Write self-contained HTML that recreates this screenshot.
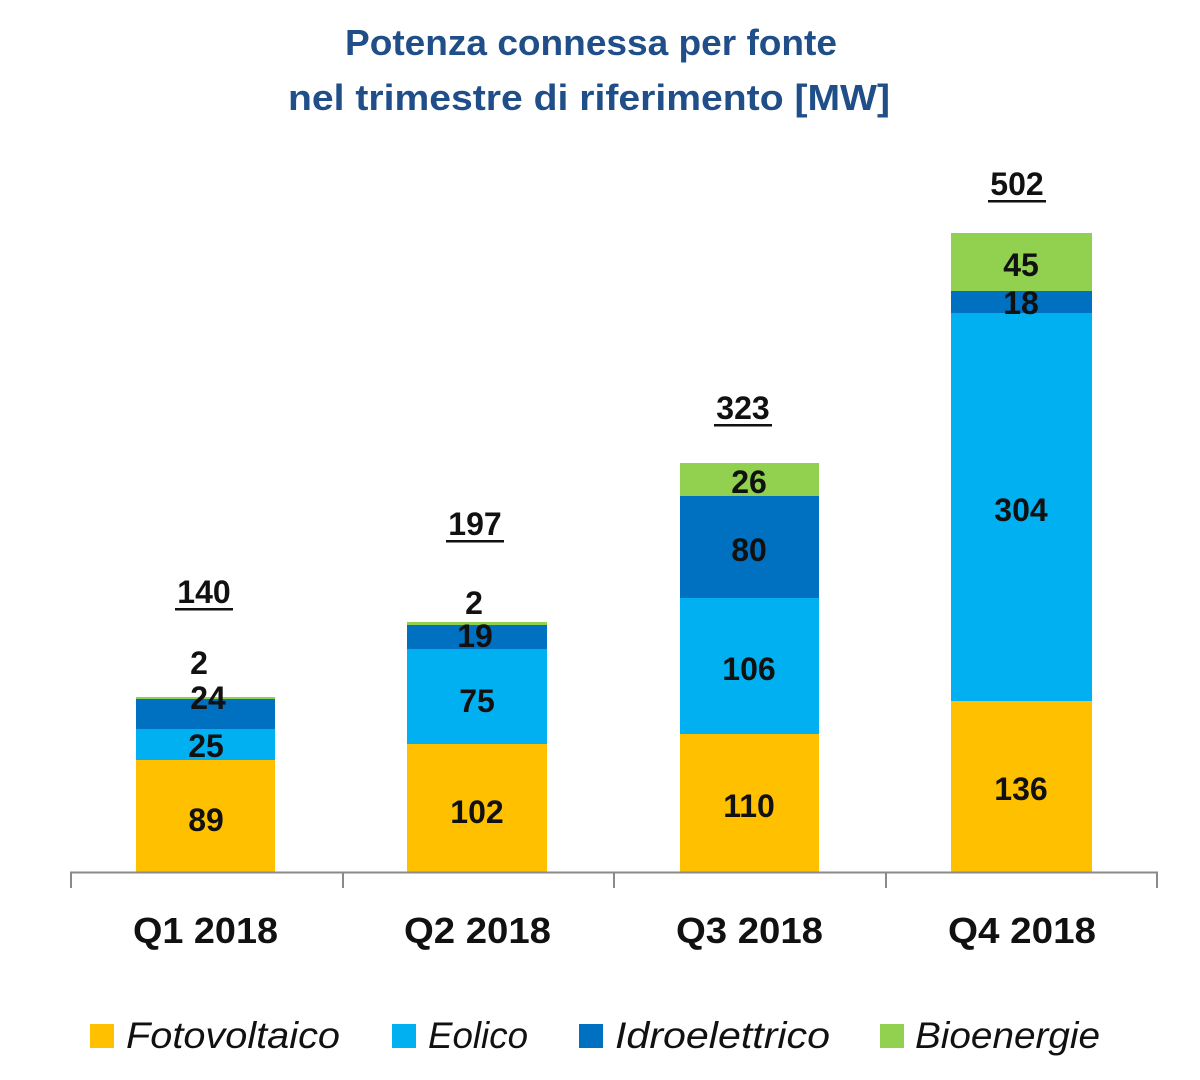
<!DOCTYPE html>
<html>
<head>
<meta charset="utf-8">
<style>
  html, body { margin:0; padding:0; background:#ffffff; }
  svg { display:block; }
  .t { font-family:"Liberation Sans", sans-serif; font-weight:bold; fill:#1f4e89; }
  .v { font-family:"Liberation Sans", sans-serif; font-weight:bold; font-size:32px; fill:#111111; }
  .ax { font-family:"Liberation Sans", sans-serif; font-weight:bold; font-size:36px; fill:#111111; }
  .lg { font-family:"Liberation Sans", sans-serif; font-style:italic; font-size:37px; fill:#111111; }
</style>
</head>
<body>
<svg width="1200" height="1080" viewBox="0 0 1200 1080" xmlns="http://www.w3.org/2000/svg">
  <rect width="1200" height="1080" fill="#ffffff"/>

  <!-- Title -->
  <text class="t" x="345" y="55" font-size="36" textLength="492" lengthAdjust="spacingAndGlyphs">Potenza connessa per fonte</text>
  <text class="t" x="288" y="110" font-size="36" textLength="602" lengthAdjust="spacingAndGlyphs">nel trimestre di riferimento [MW]</text>

  <!-- Q1 -->
  <rect x="136" y="760" width="139" height="112" fill="#ffc000"/>
  <rect x="136" y="729" width="139" height="31" fill="#00b0f0"/>
  <rect x="136" y="699" width="139" height="30" fill="#0070c0"/>
  <rect x="136" y="697" width="139" height="2" fill="#92d050"/>

  <!-- Q2 -->
  <rect x="407" y="744" width="140" height="128" fill="#ffc000"/>
  <rect x="407" y="649" width="140" height="95" fill="#00b0f0"/>
  <rect x="407" y="625" width="140" height="24" fill="#0070c0"/>
  <rect x="407" y="622" width="140" height="3" fill="#92d050"/>

  <!-- Q3 -->
  <rect x="680" y="734" width="139" height="138" fill="#ffc000"/>
  <rect x="680" y="598" width="139" height="136" fill="#00b0f0"/>
  <rect x="680" y="496" width="139" height="102" fill="#0070c0"/>
  <rect x="680" y="463" width="139" height="33" fill="#92d050"/>

  <!-- Q4 -->
  <rect x="951" y="701" width="141" height="171" fill="#ffc000"/>
  <rect x="951" y="313" width="141" height="388" fill="#00b0f0"/>
  <rect x="951" y="291" width="141" height="22" fill="#0070c0"/>
  <rect x="951" y="233" width="141" height="58" fill="#92d050"/>

  <!-- Axis -->
  <line x1="70" y1="872.5" x2="1158" y2="872.5" stroke="#8a8a8a" stroke-width="2"/>
  <line x1="71" y1="872" x2="71" y2="888" stroke="#8a8a8a" stroke-width="2"/>
  <line x1="343" y1="872" x2="343" y2="888" stroke="#8a8a8a" stroke-width="2"/>
  <line x1="614" y1="872" x2="614" y2="888" stroke="#8a8a8a" stroke-width="2"/>
  <line x1="886" y1="872" x2="886" y2="888" stroke="#8a8a8a" stroke-width="2"/>
  <line x1="1157" y1="872" x2="1157" y2="888" stroke="#8a8a8a" stroke-width="2"/>

  <!-- Segment labels -->
  <g class="v" text-anchor="middle">
    <text x="206" y="831">89</text>
    <text x="206" y="757">25</text>
    <text x="208" y="709">24</text>
    <text x="199" y="674">2</text>

    <text x="477" y="823">102</text>
    <text x="477" y="712">75</text>
    <text x="475" y="647">19</text>
    <text x="474" y="614">2</text>

    <text x="749" y="817">110</text>
    <text x="749" y="680">106</text>
    <text x="749" y="561">80</text>
    <text x="749" y="493">26</text>

    <text x="1021" y="800">136</text>
    <text x="1021" y="521">304</text>
    <text x="1021" y="314">18</text>
    <text x="1021" y="276">45</text>
  </g>

  <!-- Totals -->
  <g class="v" text-anchor="middle">
    <text x="204" y="603">140</text>
    <text x="475" y="535">197</text>
    <text x="743" y="419">323</text>
    <text x="1017" y="195">502</text>
  </g>
  <g fill="#111111">
    <rect x="175" y="608" width="58" height="2.5"/>
    <rect x="446" y="540" width="58" height="2.5"/>
    <rect x="714" y="424" width="58" height="2.5"/>
    <rect x="988" y="200" width="58" height="2.5"/>
  </g>

  <!-- Axis labels -->
  <text class="ax" x="133" y="943" textLength="145" lengthAdjust="spacingAndGlyphs">Q1 2018</text>
  <text class="ax" x="404" y="943" textLength="147" lengthAdjust="spacingAndGlyphs">Q2 2018</text>
  <text class="ax" x="676" y="943" textLength="147" lengthAdjust="spacingAndGlyphs">Q3 2018</text>
  <text class="ax" x="948" y="943" textLength="148" lengthAdjust="spacingAndGlyphs">Q4 2018</text>

  <!-- Legend -->
  <rect x="90" y="1024" width="24" height="24" fill="#ffc000"/>
  <text class="lg" x="126" y="1048" textLength="214" lengthAdjust="spacingAndGlyphs">Fotovoltaico</text>
  <rect x="392" y="1024" width="24" height="24" fill="#00b0f0"/>
  <text class="lg" x="428" y="1048" textLength="100" lengthAdjust="spacingAndGlyphs">Eolico</text>
  <rect x="579" y="1024" width="24" height="24" fill="#0070c0"/>
  <text class="lg" x="615" y="1048" textLength="215" lengthAdjust="spacingAndGlyphs">Idroelettrico</text>
  <rect x="880" y="1024" width="24" height="24" fill="#92d050"/>
  <text class="lg" x="915" y="1048" textLength="185" lengthAdjust="spacingAndGlyphs">Bioenergie</text>
</svg>
</body>
</html>
